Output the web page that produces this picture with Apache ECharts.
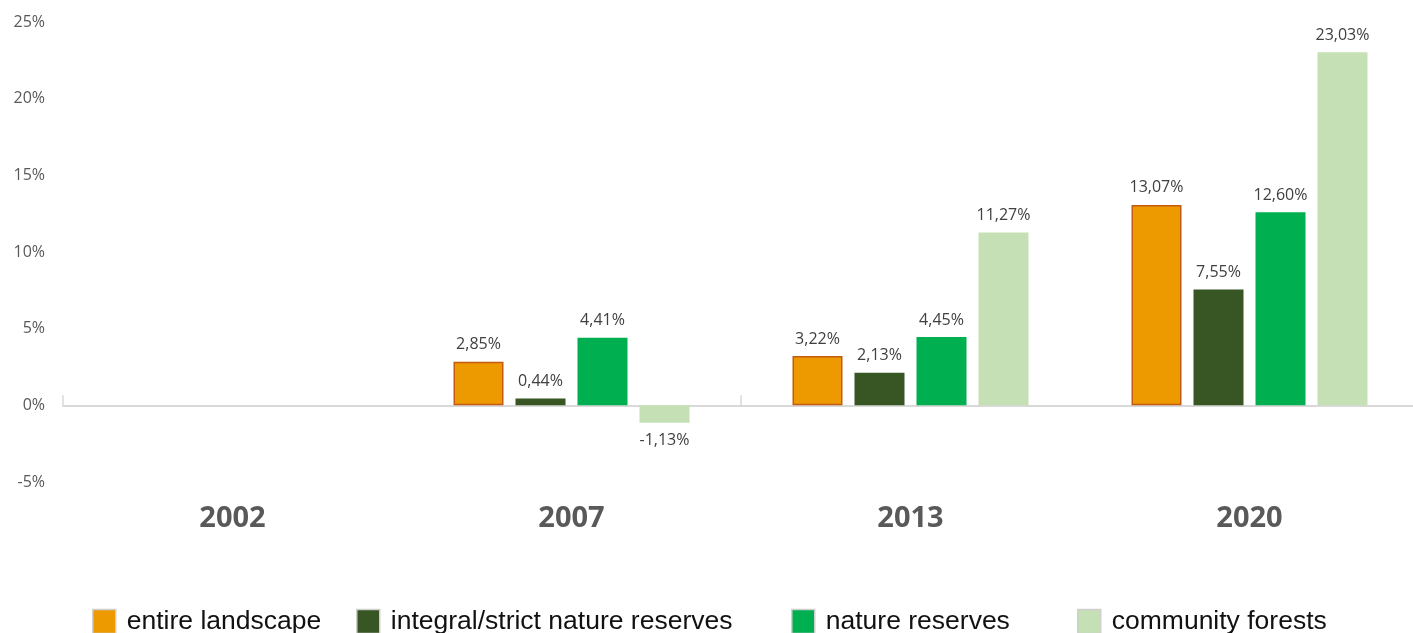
<!DOCTYPE html>
<html>
<head>
<meta charset="utf-8">
<script src="https://cdn.jsdelivr.net/npm/echarts@6/dist/echarts.min.js"></script>
<style>
  html, body { margin: 0; padding: 0; background: #fff; }
  #chart { width: 1413px; height: 633px; }
</style>
</head>
<body>
<div id="chart"></div>
<script>
// categories and values (percent change)
const years = ['2002', '2007', '2013', '2020'];
const entireLandscape = ['-', 2.85, 3.22, 13.07];
const strictReserves = ['-', 0.44, 2.13, 7.55];
const natureReserves = ['-', 4.41, 4.45, 12.60];
const communityForests = ['-', -1.13, 11.27, 23.03];
const seriesNames = ['entire landscape', 'integral/strict nature reserves', 'nature reserves', 'community forests'];
const yTicks = { min: -5, max: 25, step: 5 };

const chart = echarts.init(document.getElementById('chart'));

const fmt = v => v.toFixed(2).replace('.', ',') + '%';

// negative bars get their label underneath
const toData = arr => arr.map(v => {
  if (v === '-') return v;
  return { value: v, label: { position: v < 0 ? 'bottom' : 'top', distance: v < 0 ? 10 : 9 } };
});

const makeBar = (name, values, color, border) => ({
  name: name,
  type: 'bar',
  xAxisIndex: 0,
  barWidth: 50,
  barGap: '24%',
  data: toData(values),
  itemStyle: {
    color: color,
    borderColor: border || color,
    borderWidth: border ? 1.5 : 0
  },
  label: {
    show: true,
    color: '#404040',
    fontFamily: 'Open Sans',
    fontSize: 16,
    formatter: p => fmt(p.value)
  }
});

// one legend per item so the spacing follows the picture
const legendLeft = [92, 356, 791, 1077];
const legends = seriesNames.map((n, i) => ({
  data: [n],
  left: legendLeft[i],
  top: 608,
  padding: 0,
  itemWidth: 23,
  itemHeight: 24,
  icon: 'rect',
  selectedMode: false,
  itemStyle: { borderColor: '#cfcfcf', borderWidth: 1.5 },
  textStyle: {
    fontFamily: 'Liberation Sans',
    fontSize: 26.5,
    color: '#111',
    padding: [0, 0, 0, 6]
  }
}));

const option = {
  animation: false,
  backgroundColor: '#fff',
  legend: legends,
  grid: {
    left: 63,
    top: 22,
    width: 1356,
    bottom: 151,
    outerBoundsMode: 'none'
  },
  xAxis: [
    {
      type: 'category',
      data: years,
      axisLine: { show: false, onZero: false },
      axisTick: { show: false },
      axisLabel: {
        color: '#595959',
        fontFamily: 'Open Sans',
        fontWeight: 'bold',
        fontSize: 29,
        margin: 22
      }
    },
    {
      type: 'category',
      data: years,
      position: 'bottom',
      axisLine: { show: true, onZero: true, lineStyle: { color: '#d9d9d9', width: 2 } },
      axisTick: {
        show: true,
        inside: true,
        length: 10,
        interval: i => i === 0 || i === 2,
        lineStyle: { color: '#d9d9d9', width: 1.5 }
      },
      axisLabel: { show: false }
    }
  ],
  yAxis: {
    type: 'value',
    min: yTicks.min,
    max: yTicks.max,
    interval: yTicks.step,
    axisLine: { show: false },
    axisTick: { show: false },
    splitLine: { show: false },
    axisLabel: {
      color: '#595959',
      fontFamily: 'Open Sans',
      fontSize: 16,
      margin: 18,
      formatter: '{value}%'
    }
  },
  series: [
    makeBar(seriesNames[0], entireLandscape, '#ec9a00', '#c55a11'),
    makeBar(seriesNames[1], strictReserves, '#375623'),
    makeBar(seriesNames[2], natureReserves, '#00b050'),
    makeBar(seriesNames[3], communityForests, '#c5e0b4')
  ]
};

chart.setOption(option);
</script>
</body>
</html>
